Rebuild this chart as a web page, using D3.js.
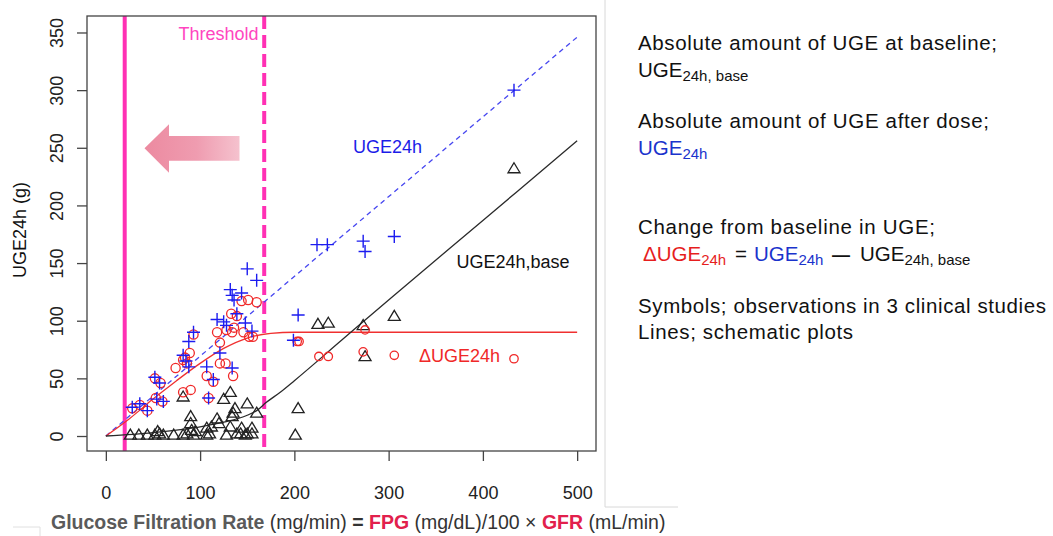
<!DOCTYPE html>
<html><head><meta charset="utf-8">
<script src="https://cdn.jsdelivr.net/npm/d3@7"></script>
<style>body{margin:0;background:#fff}svg{display:block}text{font-family:"Liberation Sans",Arial,sans-serif}</style>
</head><body>
<svg id="c" width="1053" height="536"></svg>
<script>
// ---------- data ----------
const xTicks = [0,100,200,300,400,500];
const yTicks = [0,50,100,150,200,250,300,350];
const thresholdLow = 20, thresholdHigh = 168;

const blueX = [28,36,44,52,57,54,61,82,85,88,93,88,109,107,114,121,118,125,132,134,144,136,139,148,155,134,150,160,128,204,199,224,235,273,275,306,433];
const blueY = [25,28,22,51,46,32,30,70,65,82,90,60,33,60,49,72,101,99,127,122,124,118,106,98,91,59,145,135,96,105,83,166,166,169,160,173,300];

const redX = [28,36,44,52,53,58,60,74,82,86,89,84,93,82,90,107,114,118,121,121,127,128,133,134,135,136,139,146,152,156,144,151,160,109,203,205,226,236,273,275,306,433];
const redY = [24,27,22,50,33,46,30,59,66,63,72,68,88,38,40,52,47,90,81,63,63,92,106,90,52,94,104,90,86,86,117,118,116,33,82,82,69,69,73,92,70,67];

const blackX = [26,35,44,52,55,57,61,72,82,86,93,95,107,110,128,143,148,155,82,90,90,91,118,120,112,125,132,135,137,134,150,160,132,144,155,139,150,107,201,204,225,236,273,275,306,433];
const blackY = [1,1,1,1,4,2,1,1,1,2,1,4,1,2,1,2,1,2,34,17,11,5,15,11,8,32,38,20,24,17,28,20,8,7,7,2,2,7,1,24,97,98,96,69,104,232];

const blueLineX = [0,500];
const blueLineY = [0,346];
const redLineX = [0,25,50,75,100,125,150,175,200,500];
const redLineY = [0,15,32,48,63,76,85,89,90,90];
const blackLineX = [0,50,100,125,150,160,170,185,200,250,300,400,500];
const blackLineY = [0,3,8,12,18,22,29,38,48,83,118,187,256];

// ---------- chart ----------
const svg = d3.select("#c");
const x = d3.scaleLinear().domain([-20,520]).range([87,596]);
const y = d3.scaleLinear().domain([-13,364.3]).range([451,16]);
const FONT = 18;

// faint frame artifacts
svg.append("line").attr("x1",605).attr("x2",605).attr("y1",0).attr("y2",507).attr("stroke","#d8d8d8").attr("stroke-width",1);
svg.append("line").attr("x1",605).attr("x2",678).attr("y1",507).attr("y2",507).attr("stroke","#d8d8d8").attr("stroke-width",1);
svg.append("line").attr("x1",13).attr("x2",40).attr("y1",527).attr("y2",527).attr("stroke","#e0e0e0").attr("stroke-width",1);
svg.append("line").attr("x1",40).attr("x2",40).attr("y1",527).attr("y2",536).attr("stroke","#e0e0e0").attr("stroke-width",1);

// arrow with gradient
const defs = svg.append("defs");
const g = defs.append("linearGradient").attr("id","ag").attr("x1","0%").attr("x2","100%");
g.append("stop").attr("offset","0%").attr("stop-color","#ec8aa0");
g.append("stop").attr("offset","55%").attr("stop-color","#ef9cb0");
g.append("stop").attr("offset","100%").attr("stop-color","#f5c2ce");
svg.append("path")
  .attr("d","M144.5,148.3 L169,124.3 L169,136 L239.5,136 L239.5,160.7 L169,160.7 L169,172.7 Z")
  .attr("fill","url(#ag)");

// threshold lines
svg.append("line").attr("x1",x(thresholdLow)).attr("x2",x(thresholdLow)).attr("y1",16).attr("y2",451)
  .attr("stroke","#ff30b4").attr("stroke-width",4);
svg.append("line").attr("x1",x(thresholdHigh)).attr("x2",x(thresholdHigh)).attr("y1",16).attr("y2",451)
  .attr("stroke","#ff30b4").attr("stroke-width",4).attr("stroke-dasharray","13,6");
svg.append("text").attr("x",258.5).attr("y",40).attr("text-anchor","end").attr("font-size",18)
  .attr("fill","#ff45bf").text("Threshold");

// schematic lines
const line = d3.line().x(d=>x(d[0])).y(d=>y(d[1])).curve(d3.curveMonotoneX);
svg.append("path").attr("d",line(blueLineX.map((v,i)=>[v,blueLineY[i]])))
  .attr("fill","none").attr("stroke","#4646f0").attr("stroke-width",1.3).attr("stroke-dasharray","5,4");
svg.append("path").attr("d",line(redLineX.map((v,i)=>[v,redLineY[i]])))
  .attr("fill","none").attr("stroke","#f03030").attr("stroke-width",1.3);
svg.append("path").attr("d",line(blackLineX.map((v,i)=>[v,blackLineY[i]])))
  .attr("fill","none").attr("stroke","#2a2a2a").attr("stroke-width",1.3);

// markers
svg.append("g").selectAll("path").data(blackX.map((v,i)=>[v,blackY[i]])).join("path")
  .attr("transform",d=>`translate(${x(d[0])},${y(d[1])})`)
  .attr("d","M0,-5.8 L6,4.2 L-6,4.2 Z").attr("fill","none").attr("stroke","#222").attr("stroke-width",1.3);
svg.append("g").selectAll("circle").data(redX.map((v,i)=>[v,redY[i]])).join("circle")
  .attr("cx",d=>x(d[0])).attr("cy",d=>y(d[1])).attr("r",d=>d[0]>190?4.2:4.6)
  .attr("fill","none").attr("stroke","#f02828").attr("stroke-width",1.3);
svg.append("g").selectAll("path").data(blueX.map((v,i)=>[v,blueY[i]])).join("path")
  .attr("transform",d=>`translate(${x(d[0])},${y(d[1])})`)
  .attr("d","M-6.5,0 H6.5 M0,-6.5 V6.5").attr("fill","none").attr("stroke","#1c1cf0").attr("stroke-width",1.4);

// in-plot labels
svg.append("text").attr("x",353).attr("y",153).attr("font-size",FONT).attr("fill","#1c1ce8").text("UGE24h");
svg.append("text").attr("x",456.5).attr("y",268).attr("font-size",FONT).attr("fill","#111").text("UGE24h,base");
svg.append("text").attr("x",419).attr("y",362).attr("font-size",FONT).attr("fill","#f02828").text("ΔUGE24h");

// box
svg.append("rect").attr("x",87).attr("y",16).attr("width",509).attr("height",435)
  .attr("fill","none").attr("stroke","#444").attr("stroke-width",1.3);

// axes
const xa = svg.append("g").attr("transform","translate(0,451)")
  .call(d3.axisBottom(x).tickValues(xTicks).tickSize(10).tickFormat(d3.format("d")));
xa.select(".domain").remove();
xa.selectAll("line").attr("stroke","#444").attr("stroke-width",1.3);
xa.selectAll("text").attr("font-size",18).attr("fill","#222").attr("font-family","Liberation Sans, Arial, sans-serif")
  .attr("y",48).attr("dy",0);

const ya = svg.append("g").attr("transform","translate(87,0)")
  .call(d3.axisLeft(y).tickValues(yTicks).tickSize(10).tickFormat(d3.format("d")));
ya.select(".domain").remove();
ya.selectAll("line").attr("stroke","#444").attr("stroke-width",1.3);
ya.selectAll("text").attr("font-size",18).attr("fill","#222").attr("font-family","Liberation Sans, Arial, sans-serif")
  .attr("text-anchor","middle").attr("x",null).attr("dy",null)
  .attr("transform","translate(-24,0) rotate(-90)");

svg.append("text").attr("transform","translate(26,230) rotate(-90)").attr("text-anchor","middle")
  .attr("font-size",18).attr("fill","#111").text("UGE24h (g)");

// bottom formula
const bt = svg.append("text").attr("x",51).attr("y",529).attr("font-size",19.5).attr("fill","#333");
bt.append("tspan").attr("font-weight","bold").attr("fill","#5a5a5a").text("Glucose Filtration Rate");
bt.append("tspan").text(" (mg/min) ");
bt.append("tspan").attr("font-weight","bold").text("= ");
bt.append("tspan").attr("font-weight","bold").attr("fill","#e2204c").text("FPG");
bt.append("tspan").text(" (mg/dL)/100 × ");
bt.append("tspan").attr("font-weight","bold").attr("fill","#e2204c").text("GFR");
bt.append("tspan").text(" (mL/min)");

// right panel text
const RX = 638, RF = 20.5, SF = 15;
function plain(yb, s, len){
  svg.append("text").attr("x",RX).attr("y",yb).attr("font-size",RF).attr("fill","#111")
    .attr("textLength",len).attr("lengthAdjust","spacing").text(s);
}
plain(50,"Absolute amount of UGE at baseline;",359);
let t = svg.append("text").attr("x",RX).attr("y",77).attr("font-size",RF).attr("fill","#111");
t.append("tspan").text("UGE");
t.append("tspan").attr("font-size",SF).attr("dy",4).text("24h, base");
plain(128,"Absolute amount of UGE after dose;",351);
t = svg.append("text").attr("x",RX).attr("y",155).attr("font-size",RF).attr("fill","#1a33cc");
t.append("tspan").text("UGE");
t.append("tspan").attr("font-size",SF).attr("dy",4).text("24h");
plain(234,"Change from baseline in UGE;",297);
t = svg.append("text").attr("y",261).attr("font-size",RF).attr("fill","#111");
t.append("tspan").attr("x",643).attr("fill","#e61e1e").text("ΔUGE");
t.append("tspan").attr("font-size",SF).attr("dy",4).attr("fill","#e61e1e").text("24h");
t.append("tspan").attr("x",735).attr("dy",-4).text("=");
t.append("tspan").attr("x",754).attr("fill","#1a33cc").text("UGE");
t.append("tspan").attr("font-size",SF).attr("dy",4).attr("fill","#1a33cc").text("24h");
t.append("tspan").attr("x",832).attr("dy",-4).attr("font-size",18).attr("font-weight","bold").text("—");
t.append("tspan").attr("x",860).attr("font-size",RF).text("UGE");
t.append("tspan").attr("font-size",SF).attr("dy",4).text("24h, base");
plain(313,"Symbols; observations in 3 clinical studies",408);
plain(339,"Lines; schematic plots",215);
</script>
</body></html>
